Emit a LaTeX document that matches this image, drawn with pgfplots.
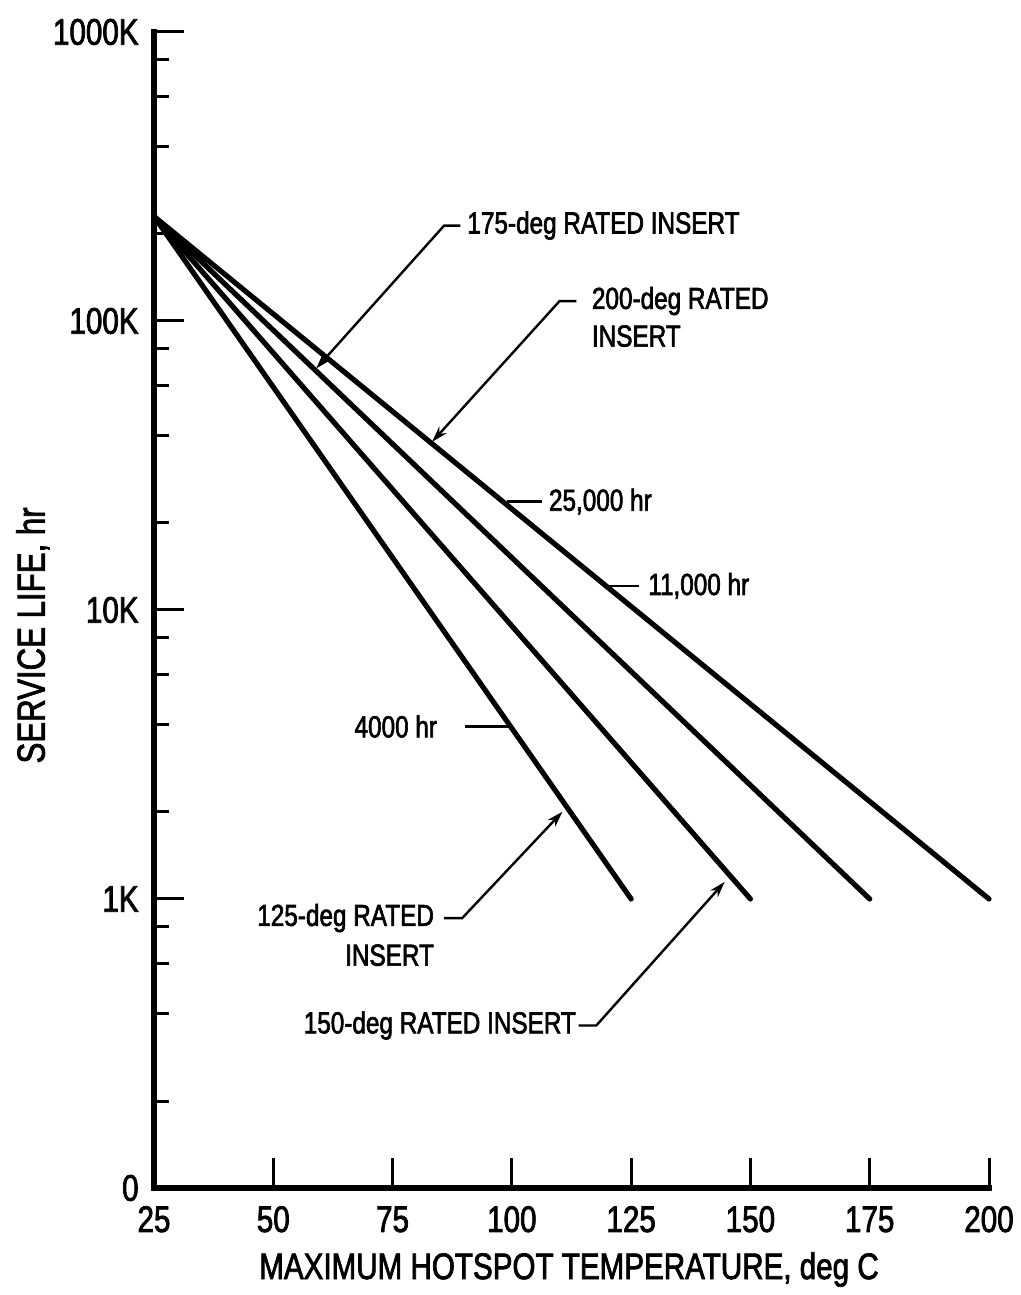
\documentclass[border=0pt]{standalone}
\usepackage{pgfplots}
\pgfplotsset{compat=1.18}
\usepackage{fontspec}
\setmainfont{Liberation Sans}[FakeStretch=0.8, FakeBold=2]
\usetikzlibrary{arrows.meta}
\begin{document}
\begin{tikzpicture}
\useasboundingbox (0,0) rectangle (510.5pt,647.5pt);
\begin{axis}[
  at={(77pt,53.5pt)}, anchor=south west,
  scale only axis, width=417.5pt, height=578pt,
  xmin=25, xmax=200, ymode=log, ymin=100, ymax=1000000,
  axis lines*=left, axis line style={line width=2.6pt, line cap=rect},
  tick align=inside, major tick length=15pt, minor tick length=7.5pt,
  every tick/.style={black, line width=1.5pt},
  xtick={25,50,75,100,125,150,175,200},
  xticklabels={25,50,75,100,125,150,175,200},
  ytick={100,1000,10000,100000,1000000},
  yticklabels={0,1K,10K,100K,1000K},
  minor ytick={200,400,600,800,2000,4000,6000,8000,20000,40000,60000,80000,200000,400000,600000,800000},
  xticklabel style={font=\fontsize{18.5}{22}\selectfont, anchor=base, yshift=-22pt, inner sep=0pt},
  yticklabel style={font=\fontsize{18.5}{22}\selectfont, anchor=east, xshift=-7.5pt, inner sep=0pt},
  xlabel={MAXIMUM HOTSPOT TEMPERATURE, deg C},
  xlabel style={font=\fontsize{18.5}{22}\selectfont, at={(axis description cs:0.497,-0.0788)}, anchor=base, inner sep=0pt},
  ylabel={SERVICE LIFE, hr},
  ylabel style={font=\fontsize{19.5}{23}\selectfont, at={(axis description cs:-0.131,0.478)}, anchor=base, rotate=0, inner sep=0pt},
  clip=false,
]
\addplot[black, line width=2.6pt, line cap=round] coordinates {(25,230000) (125,1000)};
\addplot[black, line width=2.6pt, line cap=round] coordinates {(25,230000) (150,1000)};
\addplot[black, line width=2.6pt, line cap=round] coordinates {(25,230000) (175,1000)};
\addplot[black, line width=2.6pt, line cap=round] coordinates {(25,230000) (200,1000)};

\begin{scope}[every node/.style={font=\fontsize{15.2}{18}\selectfont, inner sep=0pt}]
% 175-deg
\node[anchor=west] at (axis cs:90.6,213800) {175-deg RATED INSERT};
\draw[line width=1.2pt, -{Stealth[length=8pt,width=5pt]}] (axis cs:89.2,213800) -- (axis cs:85.8,213800) -- (axis cs:59,68500);
% 200-deg
\node[anchor=west] at (axis cs:116.7,117200) {200-deg RATED};
\node[anchor=west] at (axis cs:116.7,88650) {INSERT};
\draw[line width=1.2pt, -{Stealth[length=8pt,width=5pt]}] (axis cs:113.5,117200) -- (axis cs:110.0,117200) -- (axis cs:83.3,38200);
% 25,000 hr
\draw[line width=1.2pt] (axis cs:99.0,23700) -- (axis cs:106.25,23700);
\node[anchor=west] at (axis cs:107.7,23700) {25,000 hr};
% 11,000 hr
\draw[line width=1.2pt] (axis cs:119.8,12115) -- (axis cs:126.7,12115);
\node[anchor=west] at (axis cs:128.5,12115) {11,000 hr};
% 4000 hr
\node[anchor=east] at (axis cs:84.4,3954) {4000 hr};
\draw[line width=1.2pt] (axis cs:90.2,3954) -- (axis cs:99.7,3954);
% 125-deg
\node[anchor=east] at (axis cs:83.75,859) {125-deg RATED};
\node[anchor=east] at (axis cs:83.75,639) {INSERT};
\draw[line width=1.2pt, -{Stealth[length=8pt,width=5pt]}] (axis cs:85.8,859) -- (axis cs:89.6,859) -- (axis cs:110.6,2004);
% 150-deg
\node[anchor=east] at (axis cs:113.5,365) {150-deg RATED INSERT};
\draw[line width=1.2pt, -{Stealth[length=8pt,width=5pt]}] (axis cs:114.0,365) -- (axis cs:117.7,365) -- (axis cs:144.6,1146);
\end{scope}
\end{axis}
\end{tikzpicture}
\end{document}
